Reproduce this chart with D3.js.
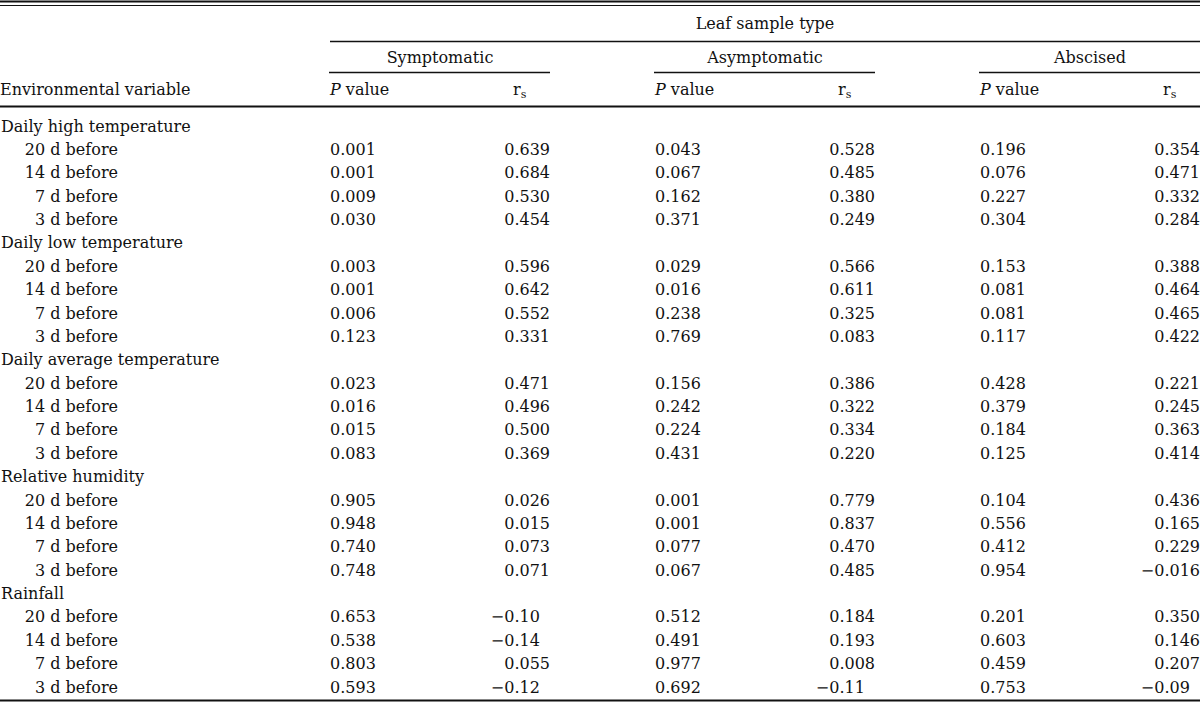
<!DOCTYPE html>
<html>
<head>
<meta charset="utf-8">
<script src="https://cdn.jsdelivr.net/npm/d3@7"></script>
<style>
  body { margin: 0; background: #fff; }
  svg text { font-family: "DejaVu Serif", serif; font-size: 16px; fill: #111; }
</style>
</head>
<body>
<div id="chart"></div>
<script>
// table contents
var groups = ["Daily high temperature", "Daily low temperature", "Daily average temperature", "Relative humidity", "Rainfall"];
var lags = ["20 d before", "14 d before", "7 d before", "3 d before"];
var sampleTypes = ["Symptomatic", "Asymptomatic", "Abscised"];

var symP = ["0.001","0.001","0.009","0.030", "0.003","0.001","0.006","0.123", "0.023","0.016","0.015","0.083", "0.905","0.948","0.740","0.748", "0.653","0.538","0.803","0.593"];
var symR = ["0.639","0.684","0.530","0.454", "0.596","0.642","0.552","0.331", "0.471","0.496","0.500","0.369", "0.026","0.015","0.073","0.071", "\u22120.10","\u22120.14","0.055","\u22120.12"];
var asymP = ["0.043","0.067","0.162","0.371", "0.029","0.016","0.238","0.769", "0.156","0.242","0.224","0.431", "0.001","0.001","0.077","0.067", "0.512","0.491","0.977","0.692"];
var asymR = ["0.528","0.485","0.380","0.249", "0.566","0.611","0.325","0.083", "0.386","0.322","0.334","0.220", "0.779","0.837","0.470","0.485", "0.184","0.193","0.008","\u22120.11"];
var absP = ["0.196","0.076","0.227","0.304", "0.153","0.081","0.081","0.117", "0.428","0.379","0.184","0.125", "0.104","0.556","0.412","0.954", "0.201","0.603","0.459","0.753"];
var absR = ["0.354","0.471","0.332","0.284", "0.388","0.464","0.465","0.422", "0.221","0.245","0.363","0.414", "0.436","0.165","0.229","\u22120.016", "0.350","0.146","0.207","\u22120.09"];

var pCols = [symP, asymP, absP];
var rCols = [symR, asymR, absR];

var width = 1200, height = 703;

var svg = d3.select("#chart").append("svg")
    .attr("width", width)
    .attr("height", height);

// build row list: a group header row then its four lag rows
var rows = [];
groups.forEach(function (g, gi) {
    rows.push({id: "g" + gi, label: g, header: true});
    lags.forEach(function (l, li) {
        rows.push({id: "g" + gi + "l" + li, label: l, header: false, k: gi * lags.length + li});
    });
});

var y = d3.scalePoint()
    .domain(rows.map(function (d) { return d.id; }))
    .range([126, 687]);

// column blocks for each sample type
var colLeft = d3.scalePoint().domain(sampleTypes).range([330, 980]);
var colW = 220;

function hline(x1, x2, yy, w) {
    svg.append("line")
        .attr("x1", x1).attr("x2", x2)
        .attr("y1", yy).attr("y2", yy)
        .attr("stroke", "#111")
        .attr("stroke-width", w);
}

// rules
hline(0, width, 1.5, 2);
hline(0, width, 5.5, 1);
hline(330, width, 41.5, 1.5);
sampleTypes.forEach(function (s) {
    hline(colLeft(s) - 1, colLeft(s) + colW, 72.5, 1.5);
});
hline(0, width, 106.5, 2);
hline(0, width, 700.5, 2);

// header texts
svg.append("text")
    .attr("x", (330 + width) / 2).attr("y", 23)
    .attr("dy", "0.35em")
    .attr("text-anchor", "middle")
    .text("Leaf sample type");

svg.append("text")
    .attr("x", 0).attr("y", 89)
    .attr("dy", "0.35em")
    .text("Environmental variable");

sampleTypes.forEach(function (s) {
    svg.append("text")
        .attr("x", colLeft(s) + colW / 2).attr("y", 57)
        .attr("dy", "0.35em")
        .attr("text-anchor", "middle")
        .text(s);

    var pv = svg.append("text")
        .attr("x", colLeft(s)).attr("y", 89)
        .attr("dy", "0.35em");
    pv.append("tspan").attr("font-style", "italic").text("P");
    pv.append("tspan").text(" value");

    var rs = svg.append("text")
        .attr("x", colLeft(s) + colW - 37).attr("y", 89)
        .attr("dy", "0.35em");
    rs.append("tspan").text("r");
    rs.append("tspan").attr("dy", "0.3em").attr("font-size", "11px").text("s");
});

// row labels
svg.selectAll("text.rowlab")
    .data(rows)
    .enter()
    .append("text")
    .attr("class", "rowlab")
    .attr("x", function (d) { return d.header ? 1 : 118; })
    .attr("y", function (d) { return y(d.id); })
    .attr("dy", "0.35em")
    .attr("text-anchor", function (d) { return d.header ? "start" : "end"; })
    .text(function (d) { return d.label; });

// width of ".000" to line decimals up
var probe = svg.append("text").text(".000");
var fracW = probe.node().getComputedTextLength();
probe.remove();

var dataRows = rows.filter(function (d) { return !d.header; });

sampleTypes.forEach(function (s, si) {
    var left = colLeft(s);
    var decX = left + colW - fracW;

    svg.selectAll("text.p" + si)
        .data(dataRows)
        .enter()
        .append("text")
        .attr("class", "p" + si)
        .attr("x", left)
        .attr("y", function (d) { return y(d.id); })
        .attr("dy", "0.35em")
        .text(function (d) { return pCols[si][d.k]; });

    // integer part right of decimal point, fraction left from it
    svg.selectAll("text.ri" + si)
        .data(dataRows)
        .enter()
        .append("text")
        .attr("class", "ri" + si)
        .attr("x", decX)
        .attr("y", function (d) { return y(d.id); })
        .attr("dy", "0.35em")
        .attr("text-anchor", "end")
        .text(function (d) { return rCols[si][d.k].split(".")[0]; });

    svg.selectAll("text.rf" + si)
        .data(dataRows)
        .enter()
        .append("text")
        .attr("class", "rf" + si)
        .attr("x", decX)
        .attr("y", function (d) { return y(d.id); })
        .attr("dy", "0.35em")
        .text(function (d) { return "." + rCols[si][d.k].split(".")[1]; });
});
</script>
</body>
</html>
